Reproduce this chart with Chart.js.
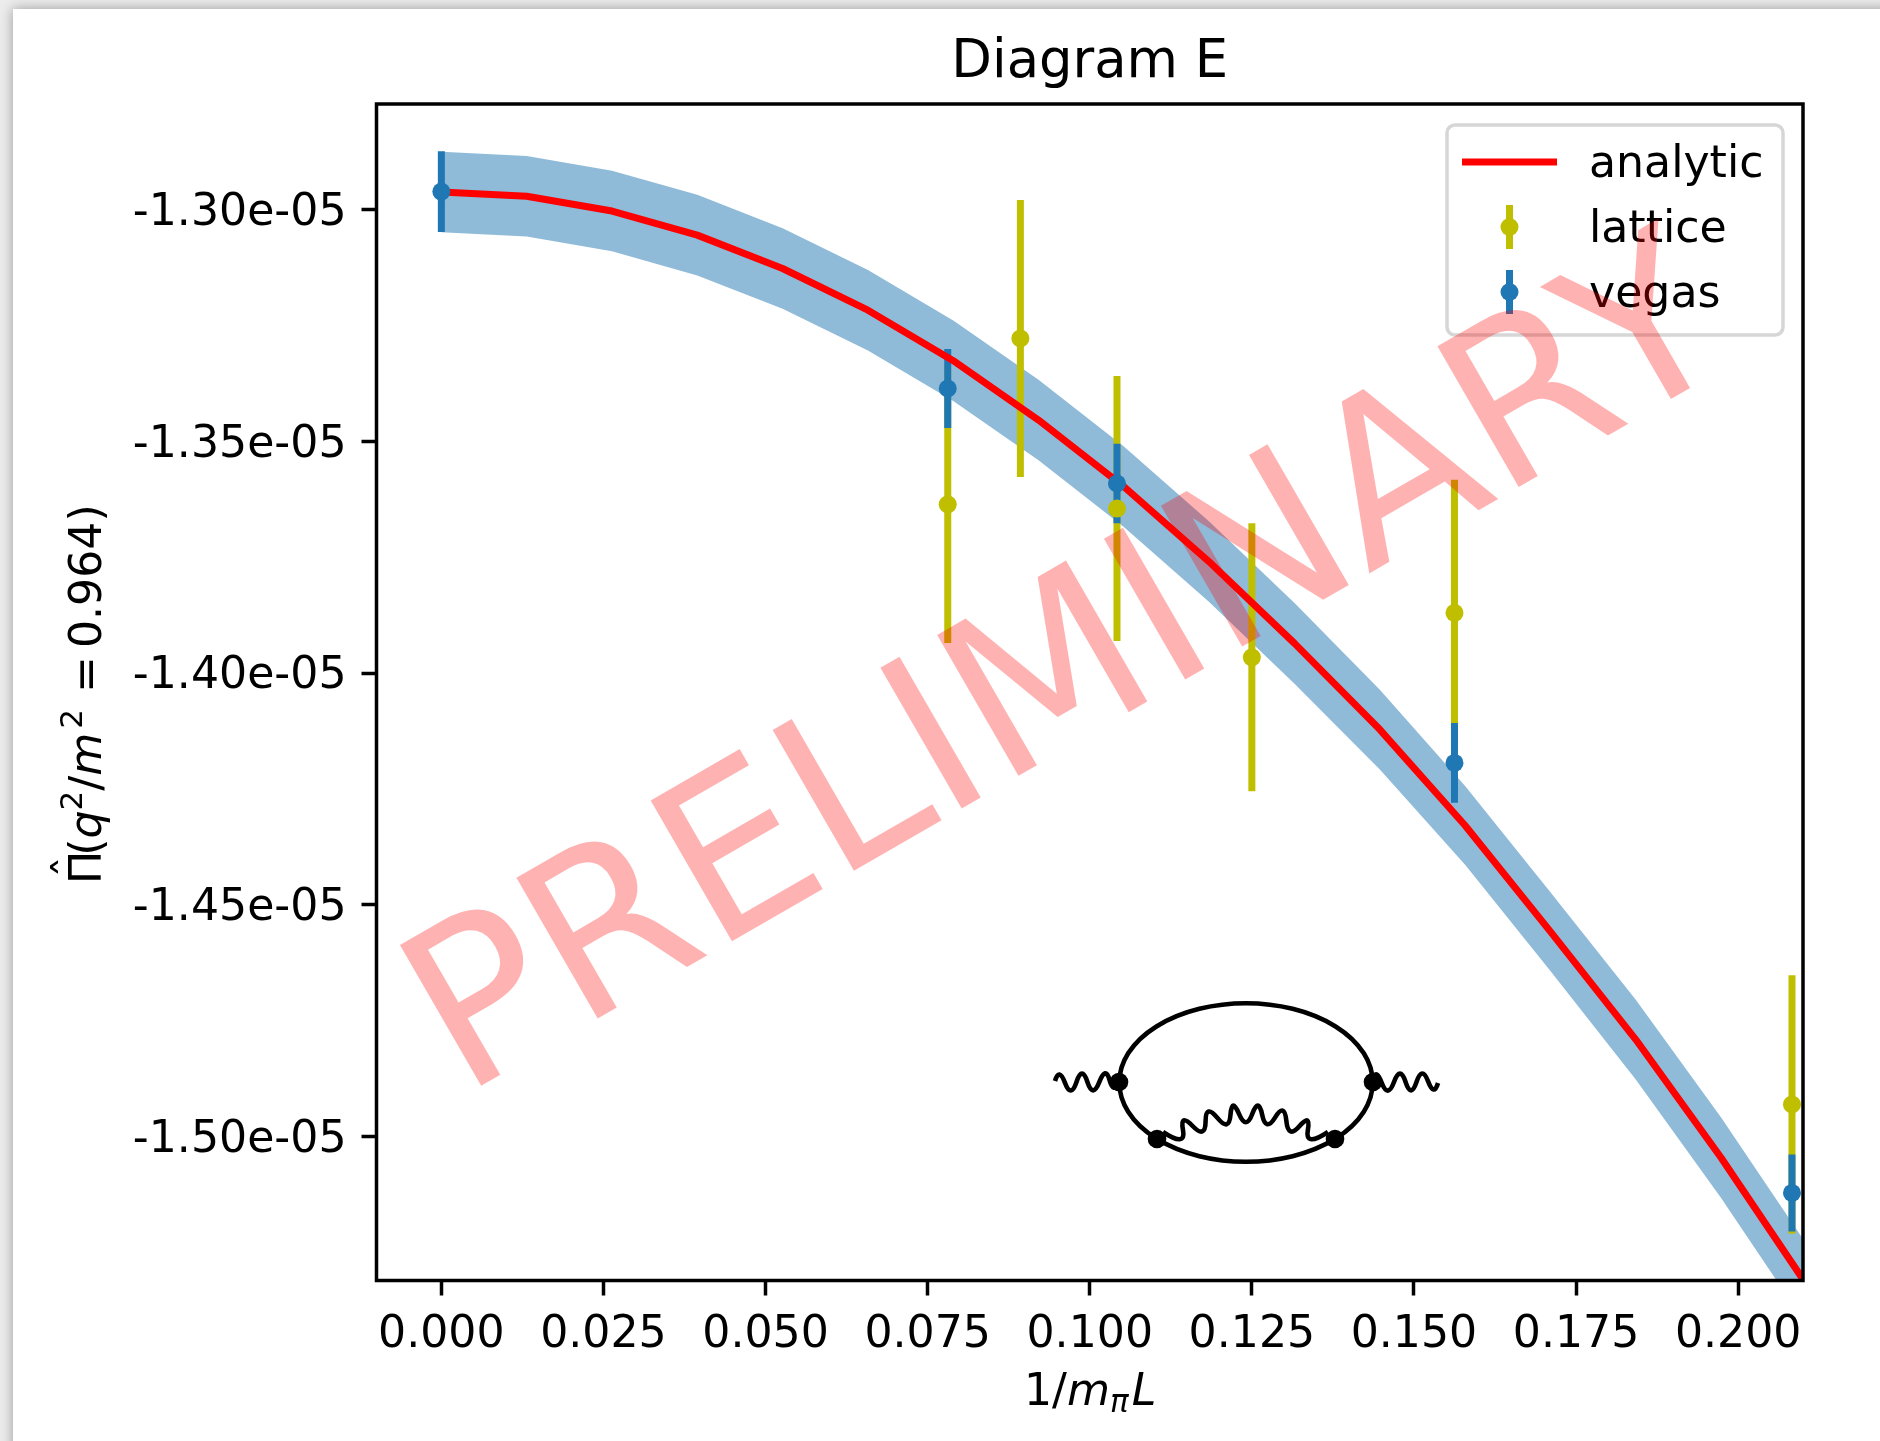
<!DOCTYPE html>
<html>
<head>
<meta charset="utf-8">
<title>Diagram E</title>
<script src="https://cdn.jsdelivr.net/npm/chart.js@4"></script>
<style>
  html, body { margin: 0; padding: 0; width: 1880px; height: 1441px; overflow: hidden; background: #ececec; }
  #sheet { position: absolute; left: 13px; top: 9px; width: 1900px; height: 1460px; background: #fff; box-shadow: 0 0 12px rgba(0,0,0,.35); }
  #plot { position: absolute; left: 0; top: 0; }
</style>
</head>
<body>
<div id="sheet"></div>
<canvas id="plot" width="1880" height="1441"></canvas>
<script>
// values, y in units of 1e-5
const analyticX = [0, 0.01316, 0.02632, 0.03947, 0.05263, 0.06579, 0.07895, 0.0921, 0.10526, 0.11842, 0.13158, 0.14474, 0.15789, 0.17105, 0.18421, 0.19737, 0.2105];
const analyticY = [-1.2962, -1.2971, -1.3003, -1.3055, -1.3127, -1.3217, -1.3326, -1.3454, -1.3598, -1.3760, -1.3936, -1.4122, -1.4329, -1.4558, -1.4791, -1.5046, -1.5319];
const analyticErr = [0.0087, 0.0087, 0.0087, 0.0087, 0.0087, 0.0087, 0.0087, 0.0087, 0.0087, 0.0087, 0.0087, 0.0086, 0.0085, 0.0085, 0.0086, 0.0087, 0.0087];

const latticeX = [0.0781, 0.0893, 0.1042, 0.125, 0.15625, 0.2083];
const latticeY = [-1.3636, -1.3278, -1.3645, -1.3966, -1.3870, -1.4931];
const latticeErr = [0.0299, 0.0299, 0.0286, 0.0289, 0.0287, 0.0279];

const vegasX = [0, 0.0781, 0.1042, 0.15625, 0.2083];
const vegasY = [-1.2961, -1.3386, -1.3591, -1.4194, -1.5122];
const vegasErr = [0.0087, 0.0085, 0.0086, 0.0086, 0.0083];

const xTicks = [0, 0.025, 0.05, 0.075, 0.1, 0.125, 0.15, 0.175, 0.2];
const xTickLabels = ['0.000', '0.025', '0.050', '0.075', '0.100', '0.125', '0.150', '0.175', '0.200'];
const yTicks = [-1.30, -1.35, -1.40, -1.45, -1.50];
const yTickLabels = ['-1.30e-05', '-1.35e-05', '-1.40e-05', '-1.45e-05', '-1.50e-05'];
const seriesNames = ['analytic', 'lattice', 'vegas'];

const BLUE = '#1f77b4';
const OLIVE = '#bfbf00';
const FONT = '"DejaVu Sans"';
const PT10 = 44.2;

const pts = (xs, ys) => xs.map((x, i) => ({ x: x, y: ys[i] }));

// one two-point line per error bar, so they go through the scales like everything else
function errorBars(xs, ys, errs, color, order) {
  return xs.map((x, i) => ({
    data: [{ x: x, y: ys[i] - errs[i] }, { x: x, y: ys[i] + errs[i] }],
    borderColor: color, borderWidth: 7, pointRadius: 0, showLine: true, order: order, fill: false
  }));
}

function drawRuns(ctx, runs) {
  let pos = 0;
  runs.forEach(r => {
    pos += r.dx || 0;
    ctx.font = (r.italic ? 'italic ' : '') + (r.size || PT10) + 'px ' + FONT;
    ctx.fillText(r.t, pos, r.dy || 0);
    pos += ctx.measureText(r.t).width;
  });
}

// p holds the crests of the wave, pushed out a bit so the smoothed curve still reaches them
function wiggle(ctx, p) {
  const c = p.map((q, i) => {
    if (i === 0 || i === p.length - 1) return q;
    return [0, 1].map(k => (q[k] - 0.125 * (p[i - 1][k] + p[i + 1][k])) / 0.75);
  });
  ctx.beginPath();
  ctx.moveTo(c[0][0], c[0][1]);
  for (let i = 1; i < c.length - 1; i++) {
    const end = i === c.length - 2 ? c[i + 1] : [(c[i][0] + c[i + 1][0]) / 2, (c[i][1] + c[i + 1][1]) / 2];
    ctx.quadraticCurveTo(c[i][0], c[i][1], end[0], end[1]);
  }
  ctx.stroke();
}

const decorations = {
  id: 'decorations',
  afterDatasetsDraw(chart) {
    const ctx = chart.ctx, a = chart.chartArea;
    ctx.save();
    ctx.fillStyle = '#000';
    ctx.textBaseline = 'alphabetic';
    ctx.textAlign = 'left';

    // frame
    ctx.strokeStyle = '#000';
    ctx.lineWidth = 3.5;
    ctx.strokeRect(a.left, a.top, a.right - a.left, a.bottom - a.top);

    // title, centred on the axes and not on the page
    ctx.save();
    ctx.font = '52.8px ' + FONT;
    ctx.textAlign = 'center';
    ctx.textBaseline = 'middle';
    ctx.fillText('Diagram E', (a.left + a.right) / 2, 63);
    ctx.restore();

    // axis labels
    ctx.save();
    ctx.translate(1024, 1405);
    drawRuns(ctx, [
      { t: '1' }, { t: '/' }, { t: 'm', italic: true },
      { t: 'π', italic: true, size: 31, dy: 7 }, { t: 'L', italic: true, dx: 3 }
    ]);
    ctx.restore();

    ctx.save();
    ctx.translate(101, 884);
    ctx.rotate(-Math.PI / 2);
    drawRuns(ctx, [
      { t: 'Π' }, { t: '(', dx: -5 }, { t: 'q', italic: true },
      { t: '2', size: 31, dy: -19 }, { t: '/' }, { t: 'm', italic: true },
      { t: '2', size: 31, dy: -19, dx: 4 }, { t: '=', dx: 16 }, { t: '0.964)', dx: 8 }
    ]);
    ctx.font = '44px ' + FONT;
    ctx.fillText('ˆ', 6, -15);
    ctx.restore();

    // feynman diagram inset
    ctx.lineWidth = 4.6;
    ctx.lineJoin = 'round';
    ctx.lineCap = 'butt';
    ctx.beginPath();
    ctx.ellipse(1246, 1082.5, 126.7, 79.3, 0, 0, Math.PI * 2);
    ctx.stroke();
    wiggle(ctx, [[1055, 1081], [1060, 1072], [1071, 1092], [1082, 1072], [1093, 1092], [1105, 1072], [1113, 1090], [1119, 1082]]);
    wiggle(ctx, [[1373, 1080], [1377, 1072], [1388, 1092], [1400, 1072], [1411, 1092], [1422, 1072], [1433, 1092], [1438, 1083]]);
    wiggle(ctx, [[1163, 1132], [1183, 1142], [1183, 1119], [1203, 1133], [1208, 1110], [1227, 1126], [1233, 1104], [1246, 1124], [1258, 1104], [1267, 1126], [1283, 1109], [1290, 1133], [1308, 1119], [1308, 1142], [1328, 1132]]);
    [[1119, 1082], [1373, 1082], [1157, 1139], [1335, 1139]].forEach(v => {
      ctx.beginPath();
      ctx.arc(v[0], v[1], 9.3, 0, Math.PI * 2);
      ctx.fill();
    });

    // legend
    ctx.beginPath();
    ctx.roundRect(1447, 125, 336, 210, 8);
    ctx.fillStyle = 'rgba(255,255,255,0.8)';
    ctx.fill();
    ctx.strokeStyle = 'rgba(204,204,204,0.8)';
    ctx.lineWidth = 3.5;
    ctx.stroke();

    ctx.strokeStyle = '#ff0000';
    ctx.lineWidth = 7;
    ctx.beginPath();
    ctx.moveTo(1462, 162);
    ctx.lineTo(1557, 162);
    ctx.stroke();
    [[227, OLIVE], [292, BLUE]].forEach(h => {
      ctx.strokeStyle = h[1];
      ctx.fillStyle = h[1];
      ctx.beginPath();
      ctx.moveTo(1509.5, h[0] - 22);
      ctx.lineTo(1509.5, h[0] + 22);
      ctx.stroke();
      ctx.beginPath();
      ctx.arc(1509.5, h[0], 9, 0, Math.PI * 2);
      ctx.fill();
    });
    ctx.fillStyle = '#000';
    ctx.font = PT10 + 'px ' + FONT;
    seriesNames.forEach((name, i) => ctx.fillText(name, 1589, [177, 242, 307][i]));

    // watermark goes over everything
    ctx.save();
    ctx.translate(1072, 678);
    ctx.rotate(-30 * Math.PI / 180);
    ctx.font = '223px ' + FONT;
    ctx.textAlign = 'center';
    ctx.textBaseline = 'middle';
    ctx.fillStyle = 'rgba(255,0,0,0.3)';
    ctx.fillText('PRELIMINARY', 0, 0);
    ctx.restore();

    ctx.restore();
  }
};

const datasets = [
  { label: 'bandHigh', data: pts(analyticX, analyticY.map((y, i) => y + analyticErr[i])), borderWidth: 0, pointRadius: 0, showLine: true, fill: '+1', backgroundColor: 'rgba(31,119,180,0.5)', order: 10 },
  { label: 'bandLow', data: pts(analyticX, analyticY.map((y, i) => y - analyticErr[i])), borderWidth: 0, pointRadius: 0, showLine: true, fill: false, order: 10 },
  ...errorBars(latticeX, latticeY, latticeErr, OLIVE, 8),
  ...errorBars(vegasX, vegasY, vegasErr, BLUE, 7),
  { label: seriesNames[0], data: pts(analyticX, analyticY), borderColor: '#ff0000', borderWidth: 7, pointRadius: 0, showLine: true, fill: false, order: 5 },
  { label: seriesNames[1], data: pts(latticeX, latticeY), showLine: false, pointRadius: 9, pointBorderWidth: 0, pointBackgroundColor: OLIVE, order: 4 },
  { label: seriesNames[2], data: pts(vegasX, vegasY), showLine: false, pointRadius: 9, pointBorderWidth: 0, pointBackgroundColor: BLUE, order: 3 }
];

new Chart(document.getElementById('plot').getContext('2d'), {
  type: 'line',
  data: { datasets: datasets },
  plugins: [decorations],
  options: {
    responsive: false,
    animation: false,
    layout: { padding: { left: 0, right: 77, top: 104, bottom: 0 } },
    elements: { line: { tension: 0, borderCapStyle: 'butt', borderJoinStyle: 'round' } },
    plugins: {
      legend: { display: false },
      tooltip: { enabled: false },
      title: { display: false }
    },
    scales: {
      x: {
        type: 'linear',
        min: -0.01,
        max: 0.21,
        afterBuildTicks: s => { s.ticks = xTicks.map(v => ({ value: v })); },
        afterFit: s => { s.height = 160.5; },
        border: { display: false },
        grid: { drawOnChartArea: false, drawTicks: true, tickLength: 15, tickWidth: 3.5, tickColor: '#000' },
        ticks: {
          color: '#000', padding: 13.5, maxRotation: 0, autoSkip: false,
          font: { family: FONT, size: PT10 },
          callback: v => xTickLabels[xTicks.indexOf(v)]
        }
      },
      y: {
        type: 'linear',
        min: -1.5311,
        max: -1.2772,
        afterBuildTicks: s => { s.ticks = yTicks.map(v => ({ value: v })); },
        afterFit: s => { s.width = 376.5; },
        border: { display: false },
        grid: { drawOnChartArea: false, drawTicks: true, tickLength: 15, tickWidth: 3.5, tickColor: '#000' },
        ticks: {
          color: '#000', padding: 15, autoSkip: false, labelOffset: 4,
          font: { family: FONT, size: PT10 },
          callback: v => yTickLabels[yTicks.indexOf(v)]
        }
      }
    }
  }
});
</script>
</body>
</html>
